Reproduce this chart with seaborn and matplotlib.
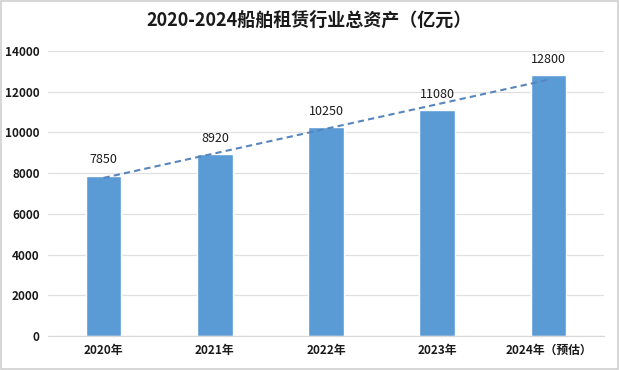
import numpy as np
import pandas as pd
import matplotlib
matplotlib.use("Agg")
import matplotlib.pyplot as plt
import seaborn as sns

categories = ["2020年", "2021年", "2022年", "2023年", "2024年（预估）"]
values = [7850, 8920, 10250, 11080, 12800]
yticks = [0, 2000, 4000, 6000, 8000, 10000, 12000, 14000]
title = "2020-2024船舶租赁行业总资产（亿元）"

sns.set_style("white")
plt.rcParams['font.family'] = ['Noto Sans CJK SC', 'DejaVu Sans']

df = pd.DataFrame({"year": categories, "value": values})

fig = plt.figure(figsize=(6.19, 3.70), dpi=100)
ax = fig.add_axes([0.0775, 0.092, 0.8985, 0.770])

sns.barplot(data=df, x="year", y="value", color="#5B9BD5", width=0.32,
            saturation=1, ax=ax, zorder=2)

# linear trendline
xs = np.arange(len(values))
k, b = np.polyfit(xs, values, 1)
ax.plot(xs, k * xs + b, linestyle=(0, (3, 2)), color="#5785BD", linewidth=1.5, zorder=3)

for i, v in enumerate(values):
    ax.annotate(f"{v}", xy=(i, v), xytext=(0, 7), textcoords="offset points",
                ha="center", va="bottom", fontsize=9, fontweight="medium",
                color="#1a1a1a", zorder=4)

ax.set_ylim(0, 14000)
ax.set_xlim(-0.5, len(values) - 0.5)
ax.set_yticks(yticks)
ax.set_yticklabels([str(t) for t in yticks], fontsize=8.5, fontweight="bold", color="#1a1a1a")
ax.set_xticks(range(len(categories)))
ax.set_xticklabels(categories, fontsize=8.5, fontweight="bold", color="#1a1a1a")
ax.set_xlabel("")
ax.set_ylabel("")
ax.yaxis.grid(True, color="#E0E0E0", linewidth=0.9, zorder=0)
ax.set_axisbelow(True)
for s in ["left", "right", "top"]:
    ax.spines[s].set_visible(False)
ax.spines["bottom"].set_color("#D9D9D9")
ax.spines["bottom"].set_linewidth(0.9)
ax.tick_params(axis="both", length=0, pad=6)

fig.text(0.5, 0.945, title, ha="center", va="center", fontsize=13,
         fontweight="bold", color="#1a1a1a")

border = plt.Rectangle((0.002, 0.003), 0.996, 0.994, transform=fig.transFigure,
                       fill=False, edgecolor="#D0D0D0", linewidth=1.2)
fig.patches.append(border)

fig.savefig("out.png", dpi=100)
